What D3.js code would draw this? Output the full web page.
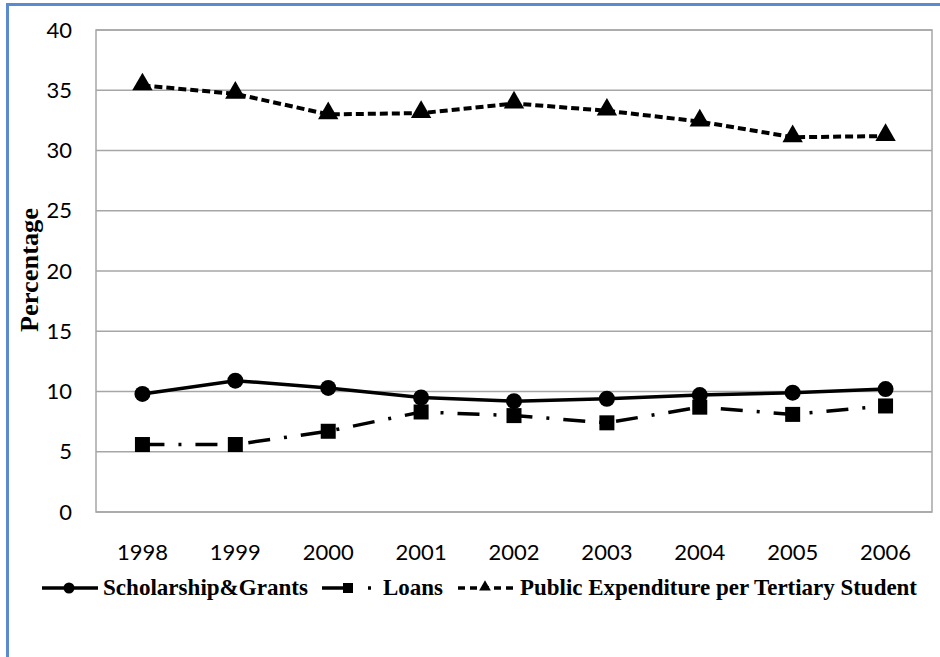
<!DOCTYPE html>
<html>
<head>
<meta charset="utf-8">
<script src="https://cdn.jsdelivr.net/npm/d3@7"></script>
<style>
  html, body { margin: 0; padding: 0; background: #fff; }
  svg { display: block; }
</style>
</head>
<body>
<svg id="chart" width="940" height="657"></svg>
<script>
// ---- Data ----
const years = ["1998","1999","2000","2001","2002","2003","2004","2005","2006"];
const scholarship = [9.8, 10.9, 10.3, 9.5, 9.2, 9.4, 9.7, 9.9, 10.2];
const loans = [5.6, 5.6, 6.7, 8.3, 8.0, 7.4, 8.7, 8.1, 8.8];
const publicExp = [35.4, 34.7, 33.0, 33.1, 33.9, 33.3, 32.4, 31.1, 31.2];
const yTicks = [0, 5, 10, 15, 20, 25, 30, 35, 40];
const seriesNames = ["Scholarship&Grants", "Loans", "Public Expenditure per Tertiary Student"];

const svg = d3.select("#chart");
const W = 940, H = 657;
const plot = { left: 96, right: 932, top: 30, bottom: 512 };

// outer blue frame
svg.append("line").attr("x1", 7.5).attr("x2", 7.5).attr("y1", 3).attr("y2", H)
  .attr("stroke", "#5a8bd0").attr("stroke-width", 3);
svg.append("line").attr("x1", 6).attr("x2", W).attr("y1", 4.5).attr("y2", 4.5)
  .attr("stroke", "#5a8bd0").attr("stroke-width", 3);

const x = d3.scaleBand().domain(years).range([plot.left, plot.right]).padding(0);
const y = d3.scaleLinear().domain([0, 40]).range([plot.bottom, plot.top]);
const cx = d => x(d) + x.bandwidth() / 2;

// gridlines
svg.append("g").selectAll("line").data(yTicks).join("line")
  .attr("x1", plot.left).attr("x2", plot.right)
  .attr("y1", d => y(d)).attr("y2", d => y(d))
  .attr("stroke", "#a6a6a6").attr("stroke-width", 1.5);
// plot border
svg.append("rect").attr("x", plot.left).attr("y", plot.top)
  .attr("width", plot.right - plot.left).attr("height", plot.bottom - plot.top)
  .attr("fill", "none").attr("stroke", "#a6a6a6").attr("stroke-width", 1.5);

// y axis tick labels
const yAxis = d3.axisLeft(y).tickValues(yTicks).tickSize(0).tickPadding(24);
const gy = svg.append("g").attr("transform", `translate(${plot.left},0)`).call(yAxis);
gy.select(".domain").remove();
gy.selectAll("text").attr("font-family", "Lato, 'Open Sans', sans-serif")
  .attr("font-size", 22).attr("fill", "#000");

// x axis tick labels
const xAxis = d3.axisBottom(x).tickSize(0).tickPadding(32);
const gx = svg.append("g").attr("transform", `translate(0,${plot.bottom})`).call(xAxis);
gx.select(".domain").remove();
gx.selectAll("text").attr("font-family", "Lato, 'Open Sans', sans-serif")
  .attr("font-size", 22).attr("fill", "#000");

// y title
svg.append("text")
  .attr("transform", "translate(38,270) rotate(-90)")
  .attr("text-anchor", "middle")
  .attr("font-family", "'Liberation Serif', 'Times New Roman', serif")
  .attr("font-weight", "bold").attr("font-size", 25)
  .attr("textLength", 124).attr("lengthAdjust", "spacingAndGlyphs")
  .text("Percentage");

const line = d3.line().x((d, i) => cx(years[i])).y(d => y(d));

// Public expenditure (short dash, triangles)
svg.append("path").datum(publicExp).attr("d", line)
  .attr("fill", "none").attr("stroke", "#000").attr("stroke-width", 4)
  .attr("stroke-dasharray", "8,4");
const tri = d3.symbol().type(d3.symbolTriangle).size(180);
svg.append("g").selectAll("path").data(publicExp).join("path")
  .attr("d", tri).attr("transform", (d, i) => `translate(${cx(years[i])},${y(d) - 1})`)
  .attr("fill", "#000");

// Scholarship (solid, circles)
svg.append("path").datum(scholarship).attr("d", line)
  .attr("fill", "none").attr("stroke", "#000").attr("stroke-width", 3.5);
svg.append("g").selectAll("circle").data(scholarship).join("circle")
  .attr("cx", (d, i) => cx(years[i])).attr("cy", d => y(d)).attr("r", 8)
  .attr("fill", "#000");

// Loans (dash-dot, squares)
svg.append("path").datum(loans).attr("d", line)
  .attr("fill", "none").attr("stroke", "#000").attr("stroke-width", 3.5)
  .attr("stroke-dasharray", "22,14,3,14");
svg.append("g").selectAll("rect").data(loans).join("rect")
  .attr("x", (d, i) => cx(years[i]) - 7.5).attr("y", d => y(d) - 7.5)
  .attr("width", 15).attr("height", 15).attr("fill", "#000");

// Legend
const ly = 588;
const lg = svg.append("g");
const legFont = "'Liberation Serif', 'Times New Roman', serif";
// scholarship
lg.append("line").attr("x1", 42).attr("x2", 98).attr("y1", ly).attr("y2", ly)
  .attr("stroke", "#000").attr("stroke-width", 3.5);
lg.append("circle").attr("cx", 69).attr("cy", ly).attr("r", 5.5).attr("fill", "#000");
lg.append("text").attr("x", 103).attr("y", ly + 7).attr("font-family", legFont)
  .attr("font-weight", "bold").attr("font-size", 23)
  .attr("textLength", 205).attr("lengthAdjust", "spacingAndGlyphs").text(seriesNames[0]);
// loans
lg.append("line").attr("x1", 322).attr("x2", 373).attr("y1", ly).attr("y2", ly)
  .attr("stroke", "#000").attr("stroke-width", 3.5).attr("stroke-dasharray", "24,22,3,10");
lg.append("rect").attr("x", 343).attr("y", ly - 5).attr("width", 10).attr("height", 10).attr("fill", "#000");
lg.append("text").attr("x", 383).attr("y", ly + 7).attr("font-family", legFont)
  .attr("font-weight", "bold").attr("font-size", 23)
  .attr("textLength", 60).attr("lengthAdjust", "spacingAndGlyphs").text(seriesNames[1]);
// public
lg.append("line").attr("x1", 458).attr("x2", 516).attr("y1", ly).attr("y2", ly)
  .attr("stroke", "#000").attr("stroke-width", 3.5).attr("stroke-dasharray", "7,5");
lg.append("path").attr("d", d3.symbol().type(d3.symbolTriangle).size(60))
  .attr("transform", `translate(485,${ly - 1})`).attr("fill", "#000");
lg.append("text").attr("x", 520).attr("y", ly + 7).attr("font-family", legFont)
  .attr("font-weight", "bold").attr("font-size", 23)
  .attr("textLength", 397).attr("lengthAdjust", "spacingAndGlyphs").text(seriesNames[2]);
</script>
</body>
</html>
